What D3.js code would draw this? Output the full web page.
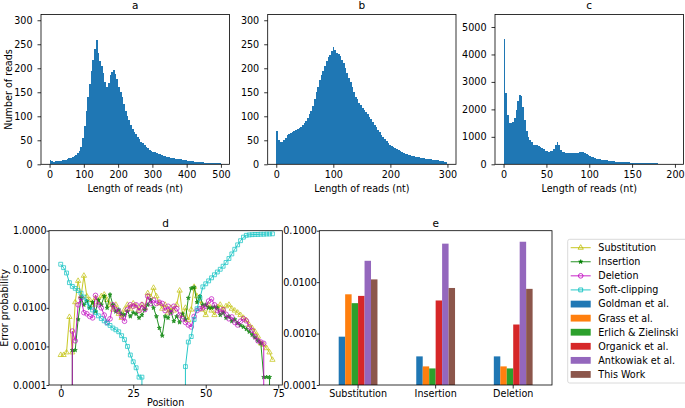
<!DOCTYPE html>
<html>
<head>
<meta charset="utf-8">
<script src="https://cdn.jsdelivr.net/npm/d3@7"></script>
<style>
  body { margin: 0; background: #fff; }
</style>
</head>
<body>
<script>
// ---- read-length histograms (counts per nt, binned) ----
const binA = 5;
const countsA = [
  9, 6, 5, 6, 6, 7, 7, 8, 9, 9,
  11, 13, 14, 16, 18, 20, 24, 27, 35, 55,
  80, 110, 140, 168, 195, 218, 240, 258, 232, 215,
  205, 190, 172, 160, 170, 185, 193, 196, 188, 178,
  162, 150, 140, 125, 112, 100, 92, 82, 74, 68,
  63, 56, 52, 47, 44, 40, 37, 33, 30, 28,
  26, 25, 23, 22, 21, 19, 18, 17, 16, 15,
  14, 14, 13, 12, 11, 10, 10, 9, 8, 8,
  7, 7, 6, 6, 5, 5, 5, 4, 4, 4,
  3, 3, 3, 3, 3, 2, 2, 2, 2, 2
];
const binB = 3;
const countsB = [
  70, 50, 46, 47, 50, 55, 62, 64, 66, 68,
  70, 72, 74, 76, 78, 82, 86, 90, 96, 104,
  112, 122, 136, 150, 162, 175, 185, 195, 205, 215,
  224, 228, 235, 245, 238, 232, 230, 226, 218, 210,
  200, 190, 180, 172, 162, 150, 140, 136, 128, 124,
  118, 114, 108, 104, 98, 94, 88, 82, 78, 72,
  68, 62, 56, 52, 48, 44, 41, 38, 36, 34,
  32, 30, 28, 26, 24, 22, 21, 20, 19, 18,
  17, 16, 16, 15, 14, 13, 13, 12, 11, 10,
  10, 9, 9, 8, 8, 7, 7, 6, 5, 4
];
const binC = 2;
const countsC = [
  4550, 2600, 1800, 1520, 1500, 1540, 1700, 1980, 2300, 2520,
  2480, 2100, 1600, 1220, 1000, 880, 800, 720, 700, 690,
  680, 640, 600, 560, 500, 470, 460, 470, 490, 540,
  700, 820, 700, 520, 460, 430, 420, 410, 405, 400,
  400, 405, 410, 420, 440, 450, 440, 410, 380, 330,
  300, 270, 250, 230, 210, 200, 185, 170, 160, 150,
  140, 132, 125, 115, 108, 100, 95, 90, 86, 82,
  78, 74, 70, 66, 62, 60, 57, 55, 52, 50,
  48, 46, 44, 42, 40, 38, 36, 34, 32, 30,
  29, 28, 27, 26, 25, 24, 23, 22, 21, 20
];
const lenTicksA = [0, 100, 200, 300, 400, 500];
const lenTicksB = [0, 100, 200, 300];
const lenTicksC = [0, 50, 100, 150, 200];
const countTicksAB = [0, 50, 100, 150, 200, 250, 300];
const countTicksC = [0, 1000, 2000, 3000, 4000, 5000];

// ---- error probability by position (index = position, 0 = none) ----
const errSubstitution = [
  0.0006, 0.0006, 0.0007, 0.0058, 0.0007, 0.014, 0.05, 0.02, 0.068, 0.02,
  0.016, 0.012, 0.018, 0.014, 0.02, 0.022, 0.016, 0.012, 0.009, 0.012,
  0.007, 0.0055, 0.009, 0.012, 0.0095, 0.013, 0.011, 0.0085, 0.012, 0.01,
  0.024, 0.019, 0.033, 0.02, 0.013, 0.0095, 0.012, 0.0075, 0.01, 0.0085,
  0.012, 0.028, 0.0065, 0.01, 0.0048, 0.009, 0.035, 0.02, 0.015, 0.009,
  0.0065, 0.012, 0.0085, 0.0065, 0.0105, 0.012, 0.009, 0.011, 0.012, 0.0095,
  0.0085, 0.0075, 0.0065, 0.0055, 0.0048, 0.0036, 0.003, 0.0024, 0.0018, 0.0012,
  0.0011, 0.0009, 0.0007, 0.00045
];
const errInsertion = [
  0, 0, 0, 0, 0.0008, 0.0008, 0.005, 0.018, 0.012, 0.015,
  0.01, 0.014, 0.008, 0.016, 0.012, 0.02, 0.01, 0.022, 0.012, 0.008,
  0.009, 0.007, 0.0065, 0.008, 0.006, 0.0075, 0.007, 0.0055, 0.0065, 0.009,
  0.012, 0.016, 0.01, 0.006, 0.003, 0.0019, 0.006, 0.0055, 0.008, 0.0045,
  0.006, 0.0042, 0.007, 0.005, 0.018, 0.032, 0.034, 0.014, 0.02, 0.012,
  0.012, 0.01, 0.01, 0.0105, 0.01, 0.0065, 0.0075, 0.0055, 0.006, 0.0045,
  0.005, 0.004, 0.0035, 0.0032, 0.0028, 0.0024, 0.002, 0.0017, 0.0014, 0.0012,
  0.00016, 0.00016, 0.00016, 0
];
const errDeletion = [
  0, 0, 0, 0, 0.0025, 0.0014, 0.012, 0.018, 0.0075, 0.007,
  0.006, 0.0055, 0.021, 0.012, 0.01, 0.0065, 0.0042, 0.0052, 0.012, 0.009,
  0.008, 0.006, 0.0045, 0.009, 0.012, 0.011, 0.012, 0.0085, 0.012, 0.009,
  0.02, 0.013, 0.016, 0.013, 0.014, 0.013, 0.0085, 0.011, 0.0075, 0.011,
  0.0095, 0.0065, 0.0052, 0.0042, 0.0036, 0.0032, 0.006, 0.0085, 0.0095, 0.01,
  0.011, 0.015, 0.017, 0.012, 0.0085, 0.0078, 0.009, 0.0068, 0.0052, 0.0058,
  0.0042, 0.0036, 0.0045, 0.0052, 0.0046, 0.0032, 0.0026, 0.0018, 0.0014, 0.0013,
  0.0012, 0, 0, 0
];
const errSoftClip = [
  0.135, 0.11, 0.08, 0.045, 0.036, 0.032, 0.028, 0.024, 0.019, 0.014,
  0.0105, 0.0088, 0.0075, 0.0062, 0.0053, 0.0046, 0.004, 0.0035, 0.003, 0.0027,
  0.0024, 0.0019, 0.0015, 0.001, 0.0006, 0.0004, 0.00028, 0.00016, 0.00016, 0,
  0, 0, 0, 0, 0, 0, 0, 0, 0, 0,
  0, 0, 0, 0.0003, 0.0013, 0.0018, 0.005, 0.0095, 0.018, 0.035,
  0.042, 0.05, 0.06, 0.072, 0.085, 0.1, 0.12, 0.15, 0.19, 0.25,
  0.33, 0.43, 0.55, 0.68, 0.76, 0.78, 0.79, 0.8, 0.8, 0.81,
  0.81, 0.82, 0.82, 0.83
];
const posTicks = [0, 25, 50, 75];
const probTicksD = [1e-4, 1e-3, 1e-2, 1e-1, 1];

// ---- published error rates ----
const errorTypes = ["Substitution", "Insertion", "Deletion"];
const studies = ["Goldman et al.", "Grass et al.", "Erlich & Zielinski", "Organick et al.", "Antkowiak et al.", "This Work"];
const rateGoldman   = [0.00087, 0.00036, 0.00036];
const rateGrass     = [0.0058, 0.00023, 0.00023];
const rateErlich    = [0.0039, 0.00021, 0.00021];
const rateOrganick  = [0.0054, 0.0044, 0.0015];
const rateAntkowiak = [0.026, 0.056, 0.061];
const rateThisWork  = [0.0113, 0.0077, 0.0074];
const probTicksE = [1e-4, 1e-3, 1e-2, 1e-1];

const FONT = "DejaVu Sans, sans-serif";
const FS = 9.6;
const svg = d3.select("body").append("svg").attr("width", 685).attr("height", 408);

function styleAxis(g) {
  g.attr("font-family", null).attr("font-size", null);
  g.select(".domain").remove();
  g.selectAll(".tick line").attr("stroke", "#000").attr("stroke-width", 0.8);
  g.selectAll(".tick text").attr("font-family", FONT).attr("font-size", FS).attr("fill", "#000");
}
function frame(b) {
  svg.append("rect")
    .attr("x", b.l).attr("y", b.t).attr("width", b.r - b.l).attr("height", b.b - b.t)
    .attr("fill", "none").attr("stroke", "#000").attr("stroke-width", 0.8);
}
function label(txt, x, y, size, rot) {
  const t = svg.append("text")
    .attr("text-anchor", "middle").attr("font-family", FONT).attr("font-size", size || FS)
    .text(txt);
  if (rot) t.attr("transform", `translate(${x},${y}) rotate(-90)`);
  else t.attr("x", x).attr("y", y);
}

function histogram(b, counts, binW, xDom, xTicks, yDom, yTicks, title, ylab) {
  const x = d3.scaleLinear().domain(xDom).range([b.l, b.r]);
  const y = d3.scaleLinear().domain(yDom).range([b.b, b.t]);
  // snap bar edges to whole pixels so neighbouring bars touch without seams
  const px = v => Math.round(x(v));
  svg.append("g").attr("shape-rendering", "crispEdges")
    .selectAll("rect").data(counts).join("rect")
    .attr("x", (d, i) => px(i * binW))
    .attr("width", (d, i) => Math.max(1, px((i + 1) * binW) - px(i * binW)))
    .attr("y", d => y(d))
    .attr("height", d => y(0) - y(d))
    .attr("fill", "#1f77b4");
  svg.append("g").attr("transform", `translate(0,${b.b})`)
    .call(d3.axisBottom(x).tickValues(xTicks).tickSize(3.5).tickPadding(3.2).tickFormat(d3.format("d")))
    .call(styleAxis);
  svg.append("g").attr("transform", `translate(${b.l},0)`)
    .call(d3.axisLeft(y).tickValues(yTicks).tickSize(3.5).tickPadding(5).tickFormat(d3.format("d")))
    .call(styleAxis);
  frame(b);
  label(title, (b.l + b.r) / 2, 9.3, 10.5);
  label("Length of reads (nt)", (b.l + b.r) / 2, 191.5);
  if (ylab) label("Number of reads", 11.5, (b.t + b.b) / 2, FS, true);
}

histogram({l: 41, r: 229.5, t: 14.5, b: 164.3}, countsA, binA, [-25, 525], lenTicksA, [0, 312], countTicksAB, "a", true);
histogram({l: 267.7, r: 456, t: 14.5, b: 164.3}, countsB, binB, [-15, 315], lenTicksB, [0, 312], countTicksAB, "b", false);
histogram({l: 495, r: 683.5, t: 14.5, b: 164.3}, countsC, binC, [-10, 210], lenTicksC, [0, 5455], countTicksC, "c", false);

// ---- panel d ----
const bd = {l: 49, r: 282.3, t: 230.7, b: 385};
const xd = d3.scaleLinear().domain([-4.04, 76.4]).range([bd.l, bd.r]);
const yd = d3.scaleLog().domain([1e-4, 1]).range([bd.b, bd.t]);
const yClip = v => v > 0 ? yd(v) : yd(1e-300);

svg.append("clipPath").attr("id", "clipD").append("rect")
  .attr("x", bd.l).attr("y", bd.t).attr("width", bd.r - bd.l).attr("height", bd.b - bd.t);

const seriesD = [
  {name: "Substitution", vals: errSubstitution, color: "#bfbf00", sym: d3.symbolTriangle, size: 12, fill: "none"},
  {name: "Insertion", vals: errInsertion, color: "#008000", sym: d3.symbolStar, size: 5, fill: "#008000"},
  {name: "Deletion", vals: errDeletion, color: "#bf00bf", sym: d3.symbolCircle, size: 17, fill: "none"},
  {name: "Soft-clipping", vals: errSoftClip, color: "#00bfbf", sym: d3.symbolSquare, size: 15, fill: "none"}
];
const lineD = d3.line().x((d, i) => xd(i)).y(d => yClip(d));
seriesD.forEach(s => {
  const g = svg.append("g").attr("opacity", 0.85);
  g.append("path").datum(s.vals).attr("d", lineD).attr("clip-path", "url(#clipD)")
    .attr("fill", "none").attr("stroke", s.color).attr("stroke-width", 1);
  g.selectAll("path.m").data(s.vals.map((v, i) => [i, v]).filter(p => p[1] > 0)).join("path")
    .attr("class", "m")
    .attr("transform", p => `translate(${xd(p[0])},${yd(p[1])})`)
    .attr("d", d3.symbol(s.sym, s.size))
    .attr("fill", s.fill).attr("stroke", s.color).attr("stroke-width", 0.8);
});
svg.append("g").attr("transform", `translate(0,${bd.b})`)
  .call(d3.axisBottom(xd).tickValues(posTicks).tickSize(3.5).tickPadding(1.2).tickFormat(d3.format("d")))
  .call(styleAxis);
svg.append("g").attr("transform", `translate(${bd.l},0)`)
  .call(d3.axisLeft(yd).tickValues(probTicksD).tickSize(2.5).tickPadding(0).tickFormat(d3.format(".4f")))
  .call(styleAxis);
frame(bd);
label("d", (bd.l + bd.r) / 2, 227.3, 10.5);
label("Position", (bd.l + bd.r) / 2, 405.5);
label("Error probability", 7.5, (bd.t + bd.b) / 2, FS, true);

// ---- panel e ----
const be = {l: 319.3, r: 552, t: 230.7, b: 385};
const rateTable = [rateGoldman, rateGrass, rateErlich, rateOrganick, rateAntkowiak, rateThisWork];
const barColors = ["#1f77b4", "#ff7f0e", "#2ca02c", "#d62728", "#9467bd", "#8c564b"];
const xe = d3.scaleBand().domain(errorTypes).range([be.l, be.r]).paddingInner(0.5).paddingOuter(0.25);
const xs = d3.scaleBand().domain(studies).range([0, xe.bandwidth()]);
const ye = d3.scaleLog().domain([1e-4, 0.1]).range([be.b, be.t]);
studies.forEach((st, j) => {
  svg.append("g").selectAll("rect").data(rateTable[j]).join("rect")
    .attr("x", (d, i) => xe(errorTypes[i]) + xs(st))
    .attr("width", xs.bandwidth())
    .attr("y", d => ye(d))
    .attr("height", d => ye(1e-4) - ye(d))
    .attr("fill", barColors[j]);
});
svg.append("g").attr("transform", `translate(0,${be.b})`)
  .call(d3.axisBottom(xe).tickSize(3.5).tickPadding(1.2))
  .call(styleAxis);
svg.append("g").attr("transform", `translate(${be.l},0)`)
  .call(d3.axisLeft(ye).tickValues(probTicksE).tickSize(2.5).tickPadding(0).tickFormat(d3.format(".4f")))
  .call(styleAxis);
frame(be);
label("e", (be.l + be.r) / 2, 227.3, 10.5);

// ---- legend ----
const lg = svg.append("g");
lg.append("rect").attr("x", 567.7).attr("y", 239.3).attr("width", 130).attr("height", 143.7)
  .attr("rx", 2).attr("fill", "#fff").attr("stroke", "#d0d0d0").attr("stroke-width", 0.8);
const rowY = i => 247.7 + i * 14.07;
seriesD.forEach((s, i) => {
  const y = rowY(i);
  lg.append("line").attr("x1", 570.7).attr("x2", 590.7).attr("y1", y).attr("y2", y)
    .attr("stroke", s.color).attr("stroke-width", 1).attr("opacity", 0.85);
  lg.append("path").attr("transform", `translate(580.7,${y})`).attr("d", d3.symbol(s.sym, s.size))
    .attr("fill", s.fill).attr("stroke", s.color).attr("stroke-width", 0.8);
  lg.append("text").attr("x", 598.3).attr("y", y + 3.5).attr("font-family", FONT).attr("font-size", FS).text(s.name);
});
studies.forEach((st, j) => {
  const y = rowY(j + 4);
  lg.append("rect").attr("x", 570.7).attr("y", y - 3.3).attr("width", 20).attr("height", 6.8).attr("fill", barColors[j]);
  lg.append("text").attr("x", 598.3).attr("y", y + 3.5).attr("font-family", FONT).attr("font-size", FS).text(st);
});
</script>
</body>
</html>
